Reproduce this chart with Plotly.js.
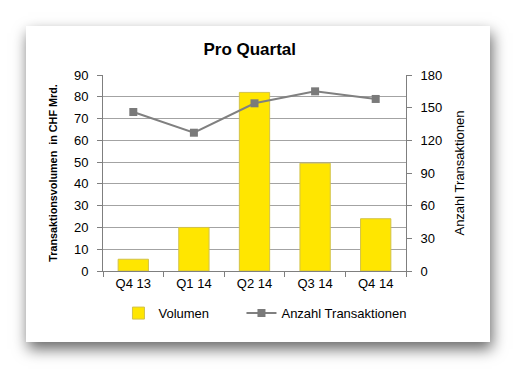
<!DOCTYPE html>
<html>
<head>
<meta charset="utf-8">
<script src="https://cdn.plot.ly/plotly-3.0.1.min.js"></script>
<style>
html,body{margin:0;padding:0;background:#fff;width:516px;height:369px;overflow:hidden;}
#panel{position:absolute;left:26px;top:26px;width:464px;height:316px;background:#fff;box-shadow:2px 7px 14px rgba(0,0,0,0.6);}
#chart{position:absolute;left:0;top:0;width:516px;height:369px;}
</style>
</head>
<body>
<div id="panel"></div>
<div id="chart"></div>
<script>
const categories = ["Q4 13", "Q1 14", "Q2 14", "Q3 14", "Q4 14"];
const volumen = [5.4, 20, 82, 49.5, 24];
const anzahl = [146, 127, 154, 165, 158];
const leftTicks = [0, 10, 20, 30, 40, 50, 60, 70, 80, 90];
const rightTicks = [0, 30, 60, 90, 120, 150, 180];

const FONT = "Liberation Sans, Arial, sans-serif";

const traces = [
  {
    type: "bar", name: "Volumen", x: categories, y: volumen,
    marker: {color: "#FFE600", line: {color: "#D2C24A", width: 1}},
    yaxis: "y", legend: "legend"
  },
  {
    type: "scatter", mode: "lines+markers", name: "Anzahl Transaktionen",
    x: categories, y: anzahl, yaxis: "y2", legend: "legend2",
    line: {color: "#808080", width: 2},
    marker: {symbol: "square", size: 8, color: "#7a7a7a"}
  }
];

const legendBase = {
  orientation: "h", xanchor: "left", y: -0.215, yanchor: "middle",
  font: {family: FONT, size: 13, color: "#000"}, itemwidth: 30, bgcolor: "rgba(0,0,0,0)"
};

const layout = {
  width: 516, height: 369,
  paper_bgcolor: "rgba(0,0,0,0)", plot_bgcolor: "rgba(0,0,0,0)",
  margin: {l: 103, r: 110, t: 75, b: 98},
  font: {family: FONT, size: 13, color: "#000"},
  title: {text: "<b>Pro Quartal</b>", font: {family: FONT, size: 17, color: "#000"},
          x: 0.484, xanchor: "center", y: 0.868, yanchor: "middle"},
  bargap: 0.5,
  showlegend: true,
  legend: Object.assign({}, legendBase, {x: 0.051}),
  legend2: Object.assign({}, legendBase, {x: 0.457}),
  xaxis: {
    type: "category", showgrid: false, showline: true, linecolor: "#7f7f7f", linewidth: 1,
    ticks: "outside", ticklen: 5, tickcolor: "#7f7f7f", tickson: "boundaries",
    tickfont: {family: FONT, size: 13, color: "#000"}, zeroline: false
  },
  yaxis: {
    range: [0, 90], tickvals: leftTicks, showgrid: true, gridcolor: "#a3a3a3", gridwidth: 1,
    showline: true, linecolor: "#7f7f7f", ticks: "outside", ticklen: 5, tickcolor: "#7f7f7f",
    ticklabelstandoff: 6, zeroline: false,
    tickfont: {family: FONT, size: 13, color: "#000"},
    title: {text: "<b>Transaktionsvolumen  in CHF Mrd.</b>", font: {family: FONT, size: 10.8, color: "#000"}, standoff: 14}
  },
  yaxis2: {
    range: [0, 180], tickvals: rightTicks, overlaying: "y", side: "right", showgrid: false,
    showline: true, linecolor: "#7f7f7f", ticks: "outside", ticklen: 5, tickcolor: "#7f7f7f",
    ticklabelstandoff: 6, zeroline: false,
    tickfont: {family: FONT, size: 13, color: "#000"},
    title: {text: "Anzahl Transaktionen", font: {family: FONT, size: 13, color: "#000"}, standoff: 13}
  }
};

Plotly.newPlot("chart", traces, layout, {displayModeBar: false, staticPlot: true});
</script>
</body>
</html>
